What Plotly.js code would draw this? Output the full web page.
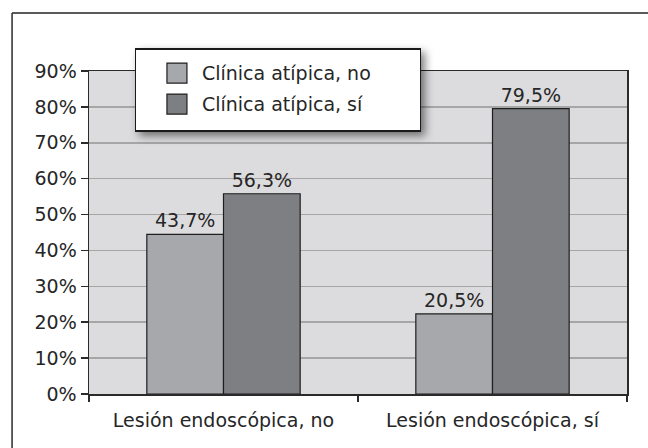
<!DOCTYPE html>
<html>
<head>
<meta charset="utf-8">
<script src="https://cdn.plot.ly/plotly-3.0.1.min.js"></script>
<style>
  html, body { margin: 0; padding: 0; background: #ffffff; overflow: hidden; }
  #chart { width: 648px; height: 448px; }
  .legend .bg { filter: drop-shadow(4px 4px 4px rgba(0,0,0,0.5)); }
  .modebar-container, .modebar, .legend .scrollbar { display: none !important; }
</style>
</head>
<body>
<div id="chart"></div>
<script>
// Data
const categories = ["Lesión endoscópica, no", "Lesión endoscópica, sí"];
const seriesNames = ["Clínica atípica, no", "Clínica atípica, sí"];
const valuesNo = [44.5, 22.3];
const valuesSi = [55.8, 79.5];
const labelsNo = ["43,7%", "20,5%"];
const labelsSi = ["56,3%", "79,5%"];
const yTickVals = [0, 10, 20, 30, 40, 50, 60, 70, 80, 90];
const yTickText = ["0%", "10%", "20%", "30%", "40%", "50%", "60%", "70%", "80%", "90%"];

const FONT = "DejaVu Sans, Arial, sans-serif";
const TXT = "#262626";

const traces = [
  {
    type: "bar", name: seriesNames[0], x: categories, y: valuesNo,
    text: labelsNo, textposition: "outside", cliponaxis: false,
    textfont: {family: FONT, size: 19, color: TXT},
    marker: {color: "#a7a8ac", line: {color: "#1e1e1e", width: 1.2}},
    hoverinfo: "none"
  },
  {
    type: "bar", name: seriesNames[1], x: categories, y: valuesSi,
    text: labelsSi, textposition: "outside", cliponaxis: false,
    textfont: {family: FONT, size: 19, color: TXT},
    marker: {color: "#7e7f83", line: {color: "#1e1e1e", width: 1.2}},
    hoverinfo: "none"
  }
];

// Outer decorative frame (top and left edges), in paper coordinates
const frameShapes = [
  {type: "line", xref: "paper", yref: "paper", x0: -0.1430, x1: 1.05, y0: 1.1796, y1: 1.1796,
   line: {color: "#5a5a5a", width: 2}},
  {type: "line", xref: "paper", yref: "paper", x0: -0.1430, x1: -0.1430, y0: 1.1796, y1: -0.2,
   line: {color: "#2a2a2a", width: 1.5}}
];

const layout = {
  width: 648, height: 448,
  margin: {l: 89, r: 20.5, t: 71, b: 54, pad: 0},
  paper_bgcolor: "#ffffff",
  plot_bgcolor: "#dcdcde",
  font: {family: FONT, size: 19, color: TXT},
  barmode: "group", bargap: 0.43, bargroupgap: 0,
  showlegend: true,
  shapes: frameShapes,
  legend: {
    x: 0.0854, y: 1.071, xanchor: "left", yanchor: "top",
    bgcolor: "#ffffff", bordercolor: "#1a1a1a", borderwidth: 1.5,
    font: {family: FONT, size: 19, color: TXT},
    traceorder: "normal"
  },
  xaxis: {
    type: "category",
    showline: true, linecolor: "#2a2a2a", linewidth: 1.5, mirror: true,
    ticks: "outside", tickson: "boundaries", ticklen: 6, tickcolor: "#2a2a2a", tickwidth: 1.2,
    ticklabelstandoff: 9,
    tickfont: {family: FONT, size: 19, color: TXT},
    showgrid: false, zeroline: false, fixedrange: true
  },
  yaxis: {
    range: [0, 90], tickvals: yTickVals, ticktext: yTickText,
    showline: true, linecolor: "#2a2a2a", linewidth: 1.5, mirror: true,
    ticks: "outside", ticklen: 7, tickcolor: "#2a2a2a", tickwidth: 1.5,
    tickfont: {family: FONT, size: 19, color: TXT},
    showgrid: true, gridcolor: "#a6a6a6", gridwidth: 1.5,
    zeroline: false, fixedrange: true
  }
};

// Legend box geometry (px, relative to the legend's top-left corner)
const LEG_W = 285, LEG_H = 82;
const LEG_ROWS = [25, 56];
const LEG_SYM_X = 42, LEG_SYM_HALF = 10, LEG_TEXT_X = 67;

Plotly.newPlot("chart", traces, layout, {staticPlot: true, displayModeBar: false}).then(function (gd) {
  const leg = gd.querySelector(".legend");
  if (!leg) return;
  const bg = leg.querySelector(".bg");
  if (bg) { bg.setAttribute("width", LEG_W); bg.setAttribute("height", LEG_H); }
  const sb = leg.querySelector(".scrollbox");
  if (sb) sb.removeAttribute("clip-path");
  leg.querySelectorAll(".traces").forEach(function (tr, i) {
    tr.setAttribute("transform", "translate(0," + LEG_ROWS[i] + ")");
    const pts = tr.querySelector(".legendpoints");
    if (pts) {
      pts.setAttribute("transform", "translate(" + LEG_SYM_X + ",0)");
      pts.querySelectorAll("path").forEach(function (p) {
        const h = LEG_SYM_HALF;
        p.setAttribute("d", "M" + h + "," + h + "H-" + h + "V-" + h + "H" + h + "Z");
        p.removeAttribute("transform");
      });
    }
    const t = tr.querySelector(".legendtext");
    if (t) t.setAttribute("x", LEG_TEXT_X);
  });
});
</script>
</body>
</html>
